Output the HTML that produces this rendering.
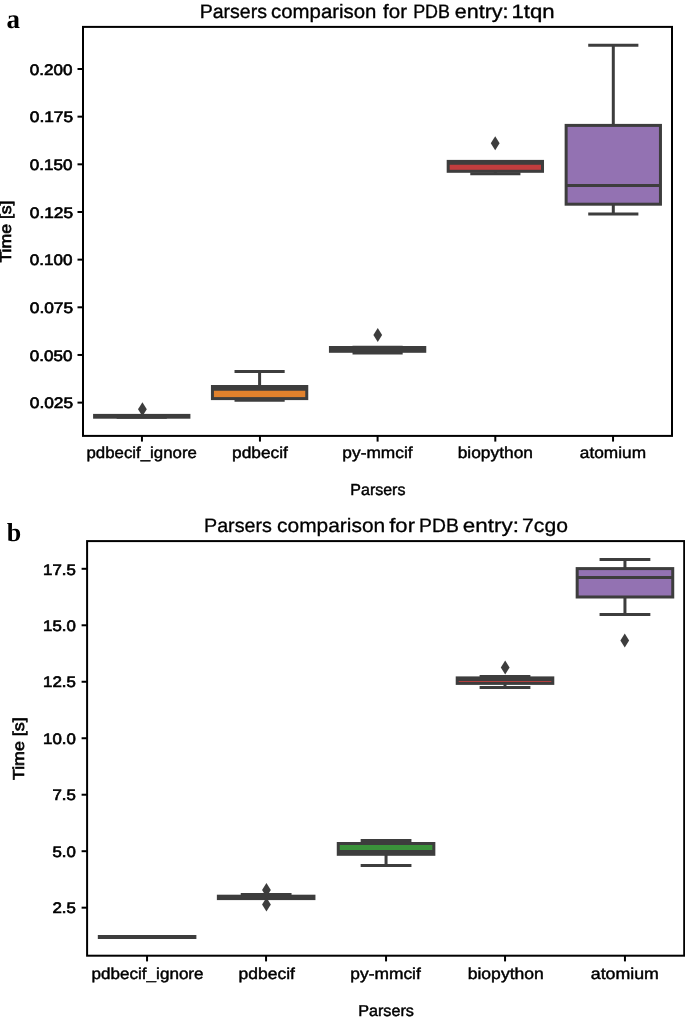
<!DOCTYPE html>
<html><head><meta charset="utf-8"><style>
html,body{margin:0;padding:0;background:#fff;width:685px;height:1017px;overflow:hidden;}
svg{display:block;will-change:transform;}
text{font-family:"Liberation Sans", sans-serif;fill:#000;text-rendering:geometricPrecision;}
</style></head><body>
<svg width="685" height="1017" viewBox="0 0 685 1017">
<rect x="83.00" y="26.90" width="589.00" height="409.00" fill="none" stroke="#000" stroke-width="2.0"/>
<line x1="77.50" y1="69.00" x2="83.00" y2="69.00" stroke="#000" stroke-width="2.0"/>
<line x1="77.50" y1="116.66" x2="83.00" y2="116.66" stroke="#000" stroke-width="2.0"/>
<line x1="77.50" y1="164.32" x2="83.00" y2="164.32" stroke="#000" stroke-width="2.0"/>
<line x1="77.50" y1="211.98" x2="83.00" y2="211.98" stroke="#000" stroke-width="2.0"/>
<line x1="77.50" y1="259.64" x2="83.00" y2="259.64" stroke="#000" stroke-width="2.0"/>
<line x1="77.50" y1="307.30" x2="83.00" y2="307.30" stroke="#000" stroke-width="2.0"/>
<line x1="77.50" y1="354.96" x2="83.00" y2="354.96" stroke="#000" stroke-width="2.0"/>
<line x1="77.50" y1="402.62" x2="83.00" y2="402.62" stroke="#000" stroke-width="2.0"/>
<line x1="141.95" y1="435.90" x2="141.95" y2="441.60" stroke="#000" stroke-width="2.0"/>
<line x1="259.95" y1="435.90" x2="259.95" y2="441.60" stroke="#000" stroke-width="2.0"/>
<line x1="377.60" y1="435.90" x2="377.60" y2="441.60" stroke="#000" stroke-width="2.0"/>
<line x1="495.30" y1="435.90" x2="495.30" y2="441.60" stroke="#000" stroke-width="2.0"/>
<line x1="613.05" y1="435.90" x2="613.05" y2="441.60" stroke="#000" stroke-width="2.0"/>
<rect x="87.10" y="541.10" width="597.10" height="414.60" fill="none" stroke="#000" stroke-width="2.0"/>
<line x1="81.60" y1="568.80" x2="87.10" y2="568.80" stroke="#000" stroke-width="2.0"/>
<line x1="81.60" y1="625.28" x2="87.10" y2="625.28" stroke="#000" stroke-width="2.0"/>
<line x1="81.60" y1="681.76" x2="87.10" y2="681.76" stroke="#000" stroke-width="2.0"/>
<line x1="81.60" y1="738.24" x2="87.10" y2="738.24" stroke="#000" stroke-width="2.0"/>
<line x1="81.60" y1="794.72" x2="87.10" y2="794.72" stroke="#000" stroke-width="2.0"/>
<line x1="81.60" y1="851.20" x2="87.10" y2="851.20" stroke="#000" stroke-width="2.0"/>
<line x1="81.60" y1="907.68" x2="87.10" y2="907.68" stroke="#000" stroke-width="2.0"/>
<line x1="147.05" y1="955.70" x2="147.05" y2="961.40" stroke="#000" stroke-width="2.0"/>
<line x1="266.05" y1="955.70" x2="266.05" y2="961.40" stroke="#000" stroke-width="2.0"/>
<line x1="386.05" y1="955.70" x2="386.05" y2="961.40" stroke="#000" stroke-width="2.0"/>
<line x1="505.05" y1="955.70" x2="505.05" y2="961.40" stroke="#000" stroke-width="2.0"/>
<line x1="624.95" y1="955.70" x2="624.95" y2="961.40" stroke="#000" stroke-width="2.0"/>
<line x1="141.75" y1="415.40" x2="141.75" y2="415.40" stroke="#3d3d3d" stroke-width="3.0"/>
<line x1="141.75" y1="417.20" x2="141.75" y2="417.30" stroke="#3d3d3d" stroke-width="3.0"/>
<rect x="94.59" y="415.40" width="94.32" height="1.80" fill="#3274a1" stroke="#3d3d3d" stroke-width="3.0"/>
<line x1="118.17" y1="415.40" x2="165.33" y2="415.40" stroke="#3d3d3d" stroke-width="3.0" stroke-linecap="square"/>
<line x1="118.17" y1="417.30" x2="165.33" y2="417.30" stroke="#3d3d3d" stroke-width="3.0" stroke-linecap="square"/>
<line x1="94.59" y1="416.30" x2="188.91" y2="416.30" stroke="#3d3d3d" stroke-width="3.0"/>
<line x1="259.60" y1="371.50" x2="259.60" y2="386.50" stroke="#3d3d3d" stroke-width="3.0"/>
<line x1="259.60" y1="398.60" x2="259.60" y2="400.20" stroke="#3d3d3d" stroke-width="3.0"/>
<rect x="212.44" y="386.50" width="94.32" height="12.10" fill="#e1812c" stroke="#3d3d3d" stroke-width="3.0"/>
<line x1="236.02" y1="371.50" x2="283.18" y2="371.50" stroke="#3d3d3d" stroke-width="3.0" stroke-linecap="square"/>
<line x1="236.02" y1="400.20" x2="283.18" y2="400.20" stroke="#3d3d3d" stroke-width="3.0" stroke-linecap="square"/>
<line x1="212.44" y1="389.30" x2="306.76" y2="389.30" stroke="#3d3d3d" stroke-width="3.0"/>
<line x1="377.60" y1="347.30" x2="377.60" y2="347.50" stroke="#3d3d3d" stroke-width="3.0"/>
<line x1="377.60" y1="351.30" x2="377.60" y2="353.10" stroke="#3d3d3d" stroke-width="3.0"/>
<rect x="330.44" y="347.50" width="94.32" height="3.80" fill="#3a923a" stroke="#3d3d3d" stroke-width="3.0"/>
<line x1="354.02" y1="347.30" x2="401.18" y2="347.30" stroke="#3d3d3d" stroke-width="3.0" stroke-linecap="square"/>
<line x1="354.02" y1="353.10" x2="401.18" y2="353.10" stroke="#3d3d3d" stroke-width="3.0" stroke-linecap="square"/>
<line x1="330.44" y1="349.50" x2="424.76" y2="349.50" stroke="#3d3d3d" stroke-width="3.0"/>
<line x1="495.35" y1="161.40" x2="495.35" y2="161.40" stroke="#3d3d3d" stroke-width="3.0"/>
<line x1="495.35" y1="171.30" x2="495.35" y2="173.80" stroke="#3d3d3d" stroke-width="3.0"/>
<rect x="448.19" y="161.40" width="94.32" height="9.90" fill="#c03d3e" stroke="#3d3d3d" stroke-width="3.0"/>
<line x1="471.77" y1="161.40" x2="518.93" y2="161.40" stroke="#3d3d3d" stroke-width="3.0" stroke-linecap="square"/>
<line x1="471.77" y1="173.80" x2="518.93" y2="173.80" stroke="#3d3d3d" stroke-width="3.0" stroke-linecap="square"/>
<line x1="448.19" y1="163.20" x2="542.51" y2="163.20" stroke="#3d3d3d" stroke-width="3.0"/>
<line x1="613.30" y1="45.30" x2="613.30" y2="125.40" stroke="#3d3d3d" stroke-width="3.0"/>
<line x1="613.30" y1="204.20" x2="613.30" y2="214.10" stroke="#3d3d3d" stroke-width="3.0"/>
<rect x="566.14" y="125.40" width="94.32" height="78.80" fill="#9372b2" stroke="#3d3d3d" stroke-width="3.0"/>
<line x1="589.72" y1="45.30" x2="636.88" y2="45.30" stroke="#3d3d3d" stroke-width="3.0" stroke-linecap="square"/>
<line x1="589.72" y1="214.10" x2="636.88" y2="214.10" stroke="#3d3d3d" stroke-width="3.0" stroke-linecap="square"/>
<line x1="566.14" y1="185.50" x2="660.46" y2="185.50" stroke="#3d3d3d" stroke-width="3.0"/>
<path d="M142.40,402.20 L146.80,409.20 L142.40,416.20 L138.00,409.20 Z" fill="#3d3d3d"/>
<path d="M377.75,328.10 L382.15,335.10 L377.75,342.10 L373.35,335.10 Z" fill="#3d3d3d"/>
<path d="M495.20,136.20 L499.60,143.20 L495.20,150.20 L490.80,143.20 Z" fill="#3d3d3d"/>
<line x1="147.10" y1="936.50" x2="147.10" y2="936.50" stroke="#3d3d3d" stroke-width="3.0"/>
<line x1="147.10" y1="937.50" x2="147.10" y2="937.50" stroke="#3d3d3d" stroke-width="3.0"/>
<rect x="99.32" y="936.50" width="95.57" height="1.00" fill="#3274a1" stroke="#3d3d3d" stroke-width="3.0"/>
<line x1="123.21" y1="936.50" x2="170.99" y2="936.50" stroke="#3d3d3d" stroke-width="3.0" stroke-linecap="square"/>
<line x1="123.21" y1="937.50" x2="170.99" y2="937.50" stroke="#3d3d3d" stroke-width="3.0" stroke-linecap="square"/>
<line x1="99.32" y1="937.00" x2="194.88" y2="937.00" stroke="#3d3d3d" stroke-width="3.0"/>
<line x1="266.15" y1="894.50" x2="266.15" y2="896.20" stroke="#3d3d3d" stroke-width="3.0"/>
<line x1="266.15" y1="898.60" x2="266.15" y2="898.60" stroke="#3d3d3d" stroke-width="3.0"/>
<rect x="218.37" y="896.20" width="95.57" height="2.40" fill="#e1812c" stroke="#3d3d3d" stroke-width="3.0"/>
<line x1="242.26" y1="894.50" x2="290.04" y2="894.50" stroke="#3d3d3d" stroke-width="3.0" stroke-linecap="square"/>
<line x1="242.26" y1="898.60" x2="290.04" y2="898.60" stroke="#3d3d3d" stroke-width="3.0" stroke-linecap="square"/>
<line x1="218.37" y1="897.30" x2="313.93" y2="897.30" stroke="#3d3d3d" stroke-width="3.0"/>
<line x1="386.05" y1="840.60" x2="386.05" y2="843.50" stroke="#3d3d3d" stroke-width="3.0"/>
<line x1="386.05" y1="854.30" x2="386.05" y2="865.40" stroke="#3d3d3d" stroke-width="3.0"/>
<rect x="338.27" y="843.50" width="95.57" height="10.80" fill="#3a923a" stroke="#3d3d3d" stroke-width="3.0"/>
<line x1="362.16" y1="840.60" x2="409.94" y2="840.60" stroke="#3d3d3d" stroke-width="3.0" stroke-linecap="square"/>
<line x1="362.16" y1="865.40" x2="409.94" y2="865.40" stroke="#3d3d3d" stroke-width="3.0" stroke-linecap="square"/>
<line x1="338.27" y1="851.50" x2="433.83" y2="851.50" stroke="#3d3d3d" stroke-width="3.0"/>
<line x1="505.00" y1="676.50" x2="505.00" y2="677.90" stroke="#3d3d3d" stroke-width="3.0"/>
<line x1="505.00" y1="683.40" x2="505.00" y2="687.40" stroke="#3d3d3d" stroke-width="3.0"/>
<rect x="457.22" y="677.90" width="95.57" height="5.50" fill="#c03d3e" stroke="#3d3d3d" stroke-width="3.0"/>
<line x1="481.11" y1="676.50" x2="528.89" y2="676.50" stroke="#3d3d3d" stroke-width="3.0" stroke-linecap="square"/>
<line x1="481.11" y1="687.40" x2="528.89" y2="687.40" stroke="#3d3d3d" stroke-width="3.0" stroke-linecap="square"/>
<line x1="457.22" y1="679.60" x2="552.78" y2="679.60" stroke="#3d3d3d" stroke-width="3.0"/>
<line x1="624.95" y1="559.40" x2="624.95" y2="568.60" stroke="#3d3d3d" stroke-width="3.0"/>
<line x1="624.95" y1="597.00" x2="624.95" y2="614.60" stroke="#3d3d3d" stroke-width="3.0"/>
<rect x="577.17" y="568.60" width="95.57" height="28.40" fill="#9372b2" stroke="#3d3d3d" stroke-width="3.0"/>
<line x1="601.06" y1="559.40" x2="648.84" y2="559.40" stroke="#3d3d3d" stroke-width="3.0" stroke-linecap="square"/>
<line x1="601.06" y1="614.60" x2="648.84" y2="614.60" stroke="#3d3d3d" stroke-width="3.0" stroke-linecap="square"/>
<line x1="577.17" y1="577.40" x2="672.73" y2="577.40" stroke="#3d3d3d" stroke-width="3.0"/>
<path d="M266.45,883.10 L270.85,890.10 L266.45,897.10 L262.05,890.10 Z" fill="#3d3d3d"/>
<path d="M266.45,897.40 L270.85,904.40 L266.45,911.40 L262.05,904.40 Z" fill="#3d3d3d"/>
<path d="M505.20,660.60 L509.60,667.60 L505.20,674.60 L500.80,667.60 Z" fill="#3d3d3d"/>
<path d="M624.75,633.60 L629.15,640.60 L624.75,647.60 L620.35,640.60 Z" fill="#3d3d3d"/>
<text x="51.07" y="74.70" font-size="15.3" text-anchor="middle" font-weight="normal" stroke="#000" stroke-width="0.65" textLength="42.58" lengthAdjust="spacingAndGlyphs" style='font-family:"Liberation Sans", sans-serif'>0.200</text>
<text x="51.47" y="122.36" font-size="15.3" text-anchor="middle" font-weight="normal" stroke="#000" stroke-width="0.65" textLength="43.38" lengthAdjust="spacingAndGlyphs" style='font-family:"Liberation Sans", sans-serif'>0.175</text>
<text x="51.07" y="170.02" font-size="15.3" text-anchor="middle" font-weight="normal" stroke="#000" stroke-width="0.65" textLength="42.58" lengthAdjust="spacingAndGlyphs" style='font-family:"Liberation Sans", sans-serif'>0.150</text>
<text x="51.47" y="217.68" font-size="15.3" text-anchor="middle" font-weight="normal" stroke="#000" stroke-width="0.65" textLength="43.38" lengthAdjust="spacingAndGlyphs" style='font-family:"Liberation Sans", sans-serif'>0.125</text>
<text x="51.07" y="265.34" font-size="15.3" text-anchor="middle" font-weight="normal" stroke="#000" stroke-width="0.65" textLength="42.58" lengthAdjust="spacingAndGlyphs" style='font-family:"Liberation Sans", sans-serif'>0.100</text>
<text x="51.47" y="313.00" font-size="15.3" text-anchor="middle" font-weight="normal" stroke="#000" stroke-width="0.65" textLength="43.38" lengthAdjust="spacingAndGlyphs" style='font-family:"Liberation Sans", sans-serif'>0.075</text>
<text x="51.07" y="360.66" font-size="15.3" text-anchor="middle" font-weight="normal" stroke="#000" stroke-width="0.65" textLength="42.58" lengthAdjust="spacingAndGlyphs" style='font-family:"Liberation Sans", sans-serif'>0.050</text>
<text x="51.47" y="408.32" font-size="15.3" text-anchor="middle" font-weight="normal" stroke="#000" stroke-width="0.65" textLength="43.38" lengthAdjust="spacingAndGlyphs" style='font-family:"Liberation Sans", sans-serif'>0.025</text>
<text x="141.67" y="457.70" font-size="15.9" text-anchor="middle" font-weight="normal" stroke="#000" stroke-width="0.45" textLength="110.38" lengthAdjust="spacingAndGlyphs" style='font-family:"Liberation Sans", sans-serif'>pdbecif_ignore</text>
<text x="259.99" y="457.70" font-size="15.9" text-anchor="middle" font-weight="normal" stroke="#000" stroke-width="0.45" textLength="55.86" lengthAdjust="spacingAndGlyphs" style='font-family:"Liberation Sans", sans-serif'>pdbecif</text>
<text x="377.50" y="457.70" font-size="15.9" text-anchor="middle" font-weight="normal" stroke="#000" stroke-width="0.45" textLength="70.27" lengthAdjust="spacingAndGlyphs" style='font-family:"Liberation Sans", sans-serif'>py-mmcif</text>
<text x="495.33" y="457.70" font-size="15.9" text-anchor="middle" font-weight="normal" stroke="#000" stroke-width="0.45" textLength="75.21" lengthAdjust="spacingAndGlyphs" style='font-family:"Liberation Sans", sans-serif'>biopython</text>
<text x="612.96" y="457.70" font-size="15.9" text-anchor="middle" font-weight="normal" stroke="#000" stroke-width="0.45" textLength="66.25" lengthAdjust="spacingAndGlyphs" style='font-family:"Liberation Sans", sans-serif'>atomium</text>
<text x="233.32" y="17.95" font-size="19.4" text-anchor="middle" font-weight="normal" stroke="#000" stroke-width="0.35" textLength="67.35" lengthAdjust="spacingAndGlyphs" style='font-family:"Liberation Sans", sans-serif'>Parsers</text>
<text x="323.75" y="17.95" font-size="19.4" text-anchor="middle" font-weight="normal" stroke="#000" stroke-width="0.35" textLength="105.30" lengthAdjust="spacingAndGlyphs" style='font-family:"Liberation Sans", sans-serif'>comparison</text>
<text x="395.05" y="17.95" font-size="19.4" text-anchor="middle" font-weight="normal" stroke="#000" stroke-width="0.35" textLength="23.90" lengthAdjust="spacingAndGlyphs" style='font-family:"Liberation Sans", sans-serif'>for</text>
<text x="431.60" y="17.95" font-size="19.4" text-anchor="middle" font-weight="normal" stroke="#000" stroke-width="0.35" textLength="36.80" lengthAdjust="spacingAndGlyphs" style='font-family:"Liberation Sans", sans-serif'>PDB</text>
<text x="481.71" y="17.95" font-size="19.4" text-anchor="middle" font-weight="normal" stroke="#000" stroke-width="0.35" textLength="53.81" lengthAdjust="spacingAndGlyphs" style='font-family:"Liberation Sans", sans-serif'>entry:</text>
<text x="533.13" y="17.95" font-size="19.4" text-anchor="middle" font-weight="normal" stroke="#000" stroke-width="0.35" textLength="43.15" lengthAdjust="spacingAndGlyphs" style='font-family:"Liberation Sans", sans-serif'>1tqn</text>
<text x="377.89" y="495.10" font-size="15.9" text-anchor="middle" font-weight="normal" stroke="#000" stroke-width="0.45" textLength="55.10" lengthAdjust="spacingAndGlyphs" style='font-family:"Liberation Sans", sans-serif'>Parsers</text>
<text x="11.30" y="231.56" font-size="15.9" text-anchor="middle" font-weight="normal" stroke="#000" stroke-width="0.65" textLength="62.16" lengthAdjust="spacingAndGlyphs" transform="rotate(-90 11.30 231.56)" style='font-family:"Liberation Sans", sans-serif'>Time [s]</text>
<text x="13.20" y="28.40" font-size="27" text-anchor="middle" font-weight="bold" stroke="#000" stroke-width="0" style='font-family:"Liberation Serif", serif'>a</text>
<text x="59.46" y="574.50" font-size="15.3" text-anchor="middle" font-weight="normal" stroke="#000" stroke-width="0.65" textLength="32.80" lengthAdjust="spacingAndGlyphs" style='font-family:"Liberation Sans", sans-serif'>17.5</text>
<text x="59.46" y="630.98" font-size="15.3" text-anchor="middle" font-weight="normal" stroke="#000" stroke-width="0.65" textLength="32.80" lengthAdjust="spacingAndGlyphs" style='font-family:"Liberation Sans", sans-serif'>15.0</text>
<text x="59.46" y="687.46" font-size="15.3" text-anchor="middle" font-weight="normal" stroke="#000" stroke-width="0.65" textLength="32.80" lengthAdjust="spacingAndGlyphs" style='font-family:"Liberation Sans", sans-serif'>12.5</text>
<text x="59.46" y="743.94" font-size="15.3" text-anchor="middle" font-weight="normal" stroke="#000" stroke-width="0.65" textLength="32.80" lengthAdjust="spacingAndGlyphs" style='font-family:"Liberation Sans", sans-serif'>10.0</text>
<text x="64.14" y="800.42" font-size="15.3" text-anchor="middle" font-weight="normal" stroke="#000" stroke-width="0.65" textLength="23.44" lengthAdjust="spacingAndGlyphs" style='font-family:"Liberation Sans", sans-serif'>7.5</text>
<text x="64.14" y="856.90" font-size="15.3" text-anchor="middle" font-weight="normal" stroke="#000" stroke-width="0.65" textLength="23.44" lengthAdjust="spacingAndGlyphs" style='font-family:"Liberation Sans", sans-serif'>5.0</text>
<text x="64.14" y="913.38" font-size="15.3" text-anchor="middle" font-weight="normal" stroke="#000" stroke-width="0.65" textLength="23.44" lengthAdjust="spacingAndGlyphs" style='font-family:"Liberation Sans", sans-serif'>2.5</text>
<text x="147.57" y="978.80" font-size="15.8" text-anchor="middle" font-weight="normal" stroke="#000" stroke-width="0.45" textLength="111.97" lengthAdjust="spacingAndGlyphs" style='font-family:"Liberation Sans", sans-serif'>pdbecif_ignore</text>
<text x="266.74" y="978.80" font-size="15.8" text-anchor="middle" font-weight="normal" stroke="#000" stroke-width="0.45" textLength="56.36" lengthAdjust="spacingAndGlyphs" style='font-family:"Liberation Sans", sans-serif'>pdbecif</text>
<text x="385.57" y="978.80" font-size="15.8" text-anchor="middle" font-weight="normal" stroke="#000" stroke-width="0.45" textLength="70.41" lengthAdjust="spacingAndGlyphs" style='font-family:"Liberation Sans", sans-serif'>py-mmcif</text>
<text x="505.76" y="978.80" font-size="15.8" text-anchor="middle" font-weight="normal" stroke="#000" stroke-width="0.45" textLength="76.07" lengthAdjust="spacingAndGlyphs" style='font-family:"Liberation Sans", sans-serif'>biopython</text>
<text x="624.86" y="978.80" font-size="15.8" text-anchor="middle" font-weight="normal" stroke="#000" stroke-width="0.45" textLength="68.10" lengthAdjust="spacingAndGlyphs" style='font-family:"Liberation Sans", sans-serif'>atomium</text>
<text x="237.98" y="531.90" font-size="19.4" text-anchor="middle" font-weight="normal" stroke="#000" stroke-width="0.3" textLength="67.93" lengthAdjust="spacingAndGlyphs" style='font-family:"Liberation Sans", sans-serif'>Parsers</text>
<text x="331.14" y="531.90" font-size="19.4" text-anchor="middle" font-weight="normal" stroke="#000" stroke-width="0.3" textLength="108.19" lengthAdjust="spacingAndGlyphs" style='font-family:"Liberation Sans", sans-serif'>comparison</text>
<text x="402.12" y="531.90" font-size="19.4" text-anchor="middle" font-weight="normal" stroke="#000" stroke-width="0.3" textLength="25.73" lengthAdjust="spacingAndGlyphs" style='font-family:"Liberation Sans", sans-serif'>for</text>
<text x="438.94" y="531.90" font-size="19.4" text-anchor="middle" font-weight="normal" stroke="#000" stroke-width="0.3" textLength="39.73" lengthAdjust="spacingAndGlyphs" style='font-family:"Liberation Sans", sans-serif'>PDB</text>
<text x="490.89" y="531.90" font-size="19.4" text-anchor="middle" font-weight="normal" stroke="#000" stroke-width="0.3" textLength="56.12" lengthAdjust="spacingAndGlyphs" style='font-family:"Liberation Sans", sans-serif'>entry:</text>
<text x="544.99" y="531.90" font-size="19.4" text-anchor="middle" font-weight="normal" stroke="#000" stroke-width="0.3" textLength="45.82" lengthAdjust="spacingAndGlyphs" style='font-family:"Liberation Sans", sans-serif'>7cgo</text>
<text x="386.07" y="1016.30" font-size="15.8" text-anchor="middle" font-weight="normal" stroke="#000" stroke-width="0.45" textLength="55.74" lengthAdjust="spacingAndGlyphs" style='font-family:"Liberation Sans", sans-serif'>Parsers</text>
<text x="24.30" y="748.74" font-size="15.8" text-anchor="middle" font-weight="normal" stroke="#000" stroke-width="0.65" textLength="62.69" lengthAdjust="spacingAndGlyphs" transform="rotate(-90 24.30 748.74)" style='font-family:"Liberation Sans", sans-serif'>Time [s]</text>
<text x="13.90" y="540.50" font-size="26" text-anchor="middle" font-weight="bold" stroke="#000" stroke-width="0" style='font-family:"Liberation Serif", serif'>b</text>
</svg>
</body></html>
